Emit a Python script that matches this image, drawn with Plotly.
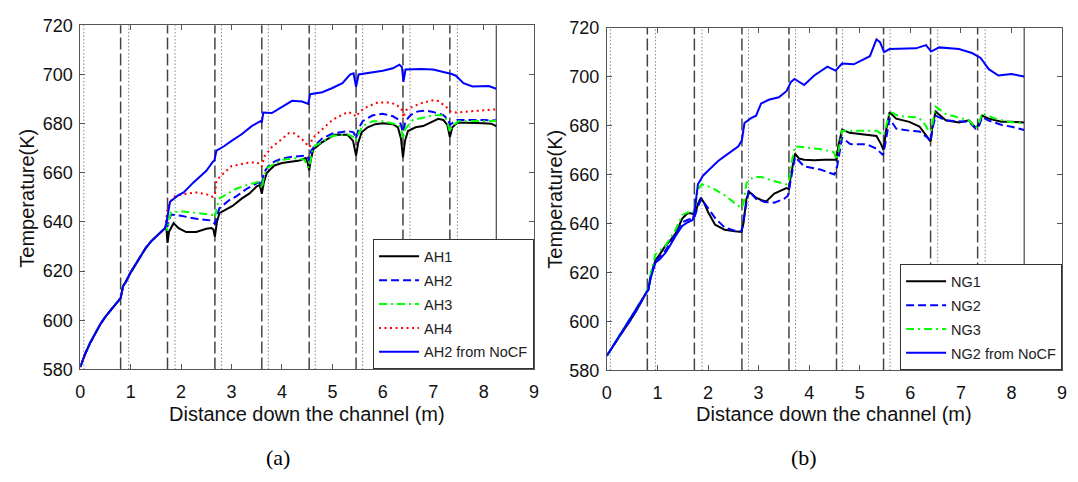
import plotly.graph_objects as go

W, H = 1078, 482

# ---------------- data: panel (a) ----------------
ah1_x = [0, 0.1, 0.2, 0.3, 0.4, 0.5, 0.6, 0.7, 0.8, 0.85, 0.9, 1.0, 1.1, 1.2, 1.3, 1.4, 1.5, 1.6, 1.68,
         1.71, 1.73, 1.76, 1.85, 1.95, 2.1, 2.3, 2.5, 2.6, 2.64, 2.67, 2.71, 2.76, 3.02, 3.2, 3.35, 3.5, 3.56,
         3.6, 3.64, 3.7, 3.85, 4.0, 4.2, 4.35, 4.47, 4.51, 4.54, 4.57, 4.62, 4.8, 5.05, 5.3, 5.41, 5.47, 5.51,
         5.58, 5.7, 5.85, 6.0, 6.2, 6.3, 6.36, 6.4, 6.44, 6.5, 6.65, 6.8, 7.0, 7.1, 7.2, 7.28, 7.33, 7.38,
         7.48, 7.7, 8.0, 8.15, 8.25]
ah1_y = [581, 586.5, 591, 595, 598.5, 601.5, 604, 606.5, 609, 614, 615.5, 619.5, 623, 626.5, 629.5, 632, 634, 636, 637.5,
         637, 631.5, 636, 639.5, 637.5, 635.9, 635.9, 637.2, 637.5, 637, 634, 640, 643.6, 646.5, 649.5, 651.5, 654.5, 655,
         651.5, 656, 660, 663, 664, 664.4, 665, 666, 664, 661, 665, 669.5, 672.5, 675.5, 675.5, 673, 667, 672,
         676.5, 678.5, 679.8, 680.2, 679.8, 678.5, 674, 666.3, 673, 677, 678.5, 679, 681.2, 682, 681.5, 679.5, 674.6, 678.5,
         680.5, 680.5, 680.2, 680, 679]

ah2_x = [0, 0.1, 0.2, 0.3, 0.4, 0.5, 0.6, 0.7, 0.8, 0.85, 0.9, 1.0, 1.1, 1.2, 1.3, 1.4, 1.5, 1.6, 1.68,
         1.71, 1.73, 1.76, 1.8, 2.0, 2.3, 2.6, 2.67, 2.72, 2.76, 2.95, 3.1, 3.3, 3.5, 3.56, 3.6, 3.64, 3.72,
         3.85, 4.0, 4.2, 4.47, 4.51, 4.54, 4.58, 4.65, 4.8, 5.0, 5.3, 5.42, 5.47, 5.52, 5.6, 5.8, 6.0, 6.2,
         6.33, 6.4, 6.45, 6.55, 6.7, 6.85, 7.0, 7.2, 7.3, 7.33, 7.4, 7.48, 8.0, 8.25]
ah2_y = [581, 586.5, 591, 595, 598.5, 601.5, 604, 606.5, 609, 614, 615.5, 619.5, 623, 626.5, 629.5, 632, 634, 636, 637.5,
         639, 638, 641, 643, 642.5, 641.3, 640.6, 639.2, 643, 645.6, 648.8, 650.5, 653.5, 655.7, 656, 655, 660, 662.5,
         664.6, 665.8, 666.5, 667, 666.5, 664.8, 669, 671, 674, 676, 677, 676.5, 674, 678, 681, 683.4, 684, 683,
         681.5, 676.5, 681, 683.5, 685, 685.3, 684.7, 683.5, 681.5, 679.5, 680.5, 681.5, 681.5, 681.3]

ah3_x = [0, 0.1, 0.2, 0.3, 0.4, 0.5, 0.6, 0.7, 0.8, 0.85, 0.9, 1.0, 1.1, 1.2, 1.3, 1.4, 1.5, 1.6, 1.68,
         1.71, 1.73, 1.76, 1.8, 2.04, 2.3, 2.6, 2.64, 2.67, 2.71, 2.76, 3.09, 3.3, 3.52, 3.57, 3.6, 3.64, 3.7,
         4.0, 4.3, 4.45, 4.5, 4.54, 4.58, 4.62, 5.0, 5.3, 5.42, 5.47, 5.52, 5.6, 5.8, 6.0, 6.3, 6.37, 6.4,
         6.45, 6.6, 7.0, 7.2, 7.28, 7.33, 7.38, 7.5, 8.25]
ah3_y = [581, 586.5, 591, 595, 598.5, 601.5, 604, 606.5, 609, 614, 615.5, 619.5, 623, 626.5, 629.5, 632, 634, 636, 637.5,
         637.5, 636.5, 641, 644, 644.3, 643.6, 643.1, 642.8, 641.8, 646, 649.6, 653.5, 655, 656.2, 655.8, 653.6, 658, 662,
         665.3, 666, 665.3, 662.7, 662, 667, 670.5, 675, 675.7, 674.5, 673, 676, 679, 681, 681, 679.6, 678, 673.6,
         678, 681.5, 683.4, 683.4, 681, 676.5, 679, 681, 681.1]

ah4_x = [0, 0.1, 0.2, 0.3, 0.4, 0.5, 0.6, 0.7, 0.8, 0.85, 0.9, 1.0, 1.1, 1.2, 1.3, 1.4, 1.5, 1.6, 1.68,
         1.71, 1.73, 1.78, 1.85, 2.05, 2.3, 2.5, 2.63, 2.67, 2.7, 2.85, 3.0, 3.3, 3.5, 3.56, 3.6, 3.65, 3.8,
         4.0, 4.14, 4.25, 4.4, 4.52, 4.55, 4.6, 4.8, 5.0, 5.3, 5.42, 5.47, 5.55, 5.7, 5.9, 6.1, 6.25, 6.37,
         6.41, 6.46, 6.6, 6.8, 7.0, 7.1, 7.25, 7.34, 7.45, 7.7, 8.0, 8.25]
ah4_y = [581, 586.5, 591, 595, 598.5, 601.5, 604, 606.5, 609, 614, 615.5, 619.5, 623, 626.5, 629.5, 632, 634, 636, 637.5,
         642, 645.6, 648, 650.2, 651.3, 652, 651.3, 650.2, 651, 656.9, 660, 662.7, 664, 664.3, 663.5, 662.5, 666.6, 670.5,
         673.7, 676.2, 676, 673.6, 671, 670.5, 674, 677.6, 681.5, 684.7, 684, 682.8, 685, 687, 688.6, 688.6, 688, 686,
         682.5, 685.5, 687, 688.6, 689.5, 689.2, 687, 685, 684.5, 685, 685.4, 685.8]

ah2nocf_x = [0, 0.1, 0.2, 0.3, 0.4, 0.5, 0.6, 0.7, 0.8, 0.85, 0.9, 1.0, 1.1, 1.2, 1.3, 1.4, 1.5, 1.6, 1.68,
             1.71, 1.73, 1.78, 1.94, 2.05, 2.24, 2.5, 2.63, 2.66, 2.7, 2.85, 3.0, 3.2, 3.4, 3.57, 3.6, 3.63, 3.8,
             4.0, 4.2, 4.4, 4.52, 4.56, 4.8, 5.0, 5.2, 5.35, 5.42, 5.47, 5.52, 6.0, 6.2, 6.33, 6.38, 6.41, 6.45,
             6.76, 7.0, 7.2, 7.35, 7.45, 7.6, 7.78, 8.1, 8.25]
ah2nocf_y = [581, 586.5, 591, 595, 598.5, 601.5, 604, 606.5, 609, 614, 615.5, 619.5, 623, 626.5, 629.5, 632, 634, 636, 637.5,
             640, 642, 648.2, 650.8, 652, 656, 660.8, 664.5, 665, 669, 670.8, 673, 675.7, 679, 681, 680.5, 684.5, 684.3,
             686.7, 689.3, 689, 688, 692, 692.8, 694.5, 696.5, 700, 700.5, 695, 700, 701.5, 702.5, 704, 703, 697, 702,
             702.2, 702, 701, 700.3, 699.5, 696.5, 695.1, 695.3, 694.2]

# ---------------- data: panel (b) ----------------
ng1_x = [0, 0.15, 0.3, 0.45, 0.6, 0.77, 0.82, 0.87, 0.96, 1.05, 1.16, 1.25, 1.36, 1.49, 1.6, 1.7, 1.74, 1.8,
         1.86, 1.92, 2.0, 2.14, 2.33, 2.53, 2.66, 2.7, 2.76, 2.82, 2.95, 3.05, 3.15, 3.31, 3.45, 3.55, 3.6, 3.64,
         3.72, 3.8, 3.9, 4.1, 4.3, 4.5, 4.54, 4.58, 4.65, 4.8, 5.1, 5.33, 5.42, 5.47, 5.52, 5.59, 5.72, 5.98,
         6.18, 6.34, 6.4, 6.44, 6.5, 6.7, 6.96, 7.16, 7.29, 7.34, 7.42, 7.55, 7.8, 8.0, 8.25]
ng1_y = [586, 591, 595.5, 600, 605, 611.5, 613, 619, 625, 627.5, 631, 633, 636, 642, 644.3, 644, 643.5, 648,
         650.5, 648.5, 644.7, 639.5, 637.4, 636.8, 636.5, 640, 650.2, 652.8, 650.5, 649.6, 649, 652.2, 653.5, 654.4, 654, 660,
         668.5, 666.5, 666, 665.8, 666, 665.9, 666, 672, 678.3, 677, 676.4, 675.7, 672.4, 670, 678, 685.4, 682.8, 681.5,
         679.6, 675, 673.5, 680, 685.7, 682.1, 681.2, 682.1, 679.1, 680, 684, 682.8, 681.5, 681.5, 681.2]

ng2_x = [0, 0.15, 0.3, 0.45, 0.6, 0.77, 0.82, 0.87, 0.96, 1.05, 1.16, 1.25, 1.36, 1.49, 1.6, 1.7, 1.74, 1.8,
         1.87, 1.94, 2.14, 2.33, 2.53, 2.66, 2.7, 2.8, 2.95, 3.12, 3.31, 3.5, 3.58, 3.62, 3.72, 3.9, 4.22, 4.5,
         4.55, 4.65, 4.81, 5.14, 5.33, 5.46, 5.5, 5.59, 5.72, 5.98, 6.18, 6.34, 6.4, 6.44, 6.5, 6.7, 6.96, 7.16,
         7.29, 7.35, 7.42, 7.55, 7.81, 8.0, 8.25]
ng2_y = [586, 591, 595.5, 600, 605, 611.5, 613, 619, 624.5, 626.5, 629, 632, 635.8, 640.5, 641.5, 642, 643, 647,
         650, 648, 642.2, 638.3, 637, 636.8, 641, 653.5, 650, 648.8, 648.5, 650, 651.3, 656, 667.2, 663.3, 662, 660,
         663, 675, 672.4, 672.3, 670.5, 667.9, 672, 682.8, 678.7, 677.9, 677.6, 675, 673.4, 679, 684, 682.1, 681.7, 681.5,
         678.7, 679.5, 683.4, 682, 680.2, 679.5, 678.2]

ng3_x = [0, 0.15, 0.3, 0.45, 0.6, 0.77, 0.82, 0.87, 0.96, 1.05, 1.16, 1.25, 1.36, 1.49, 1.6, 1.7, 1.74, 1.8,
         1.88, 2.07, 2.33, 2.53, 2.66, 2.7, 2.76, 2.9, 3.05, 3.3, 3.55, 3.6, 3.64, 3.72, 4.0, 4.2, 4.48, 4.55,
         4.65, 5.0, 5.33, 5.46, 5.5, 5.59, 5.78, 6.11, 6.24, 6.34, 6.41, 6.44, 6.5, 6.7, 6.96, 7.16, 7.29, 7.34,
         7.42, 7.68, 7.94, 8.25]
ng3_y = [586, 591, 596, 600.5, 605.5, 611.5, 613.5, 620, 627.4, 629, 631, 634, 637.5, 643.5, 644.5, 644.5, 646, 654,
         656, 654.7, 651.5, 648.3, 646.3, 648, 656.5, 659, 659, 657.3, 656, 657, 664, 671.5, 671, 670.4, 669.2, 666,
         677.9, 677.8, 677.9, 676.1, 678, 685.7, 683.8, 683.4, 682.1, 678.6, 677.6, 681, 687.7, 684.7, 683.4, 682.1, 678.9, 680,
         685, 682.8, 681.5, 680.9]

ng2nocf_x = [0, 0.15, 0.3, 0.45, 0.6, 0.77, 0.82, 0.87, 0.96, 1.05, 1.16, 1.25, 1.36, 1.49, 1.6, 1.7, 1.74, 1.8,
             1.9, 2.0, 2.2, 2.4, 2.6, 2.67, 2.72, 2.85, 2.95, 3.05, 3.2, 3.4, 3.55, 3.64, 3.71, 3.9, 4.1, 4.36,
             4.52, 4.65, 4.88, 5.2, 5.33, 5.4, 5.48, 5.59, 6.11, 6.31, 6.41, 6.57, 6.96, 7.22, 7.39, 7.55, 7.74, 8.0,
             8.25]
ng2nocf_y = [586, 591, 596, 600.5, 605.5, 611.5, 613, 618, 624, 625.5, 628.1, 631, 635, 639, 640.5, 641.5, 646, 656,
             659.5, 661.5, 665.5, 668.5, 671.5, 674, 681, 683, 684, 689, 690.5, 691.5, 694, 697.8, 699, 696.5, 700.4, 704,
             702.4, 705.3, 705, 708.3, 715.2, 714, 710, 711.2, 711.5, 712.8, 710.2, 711.9, 711.2, 709.6, 707.6, 703, 700.4, 701,
             700]

# reference (section) lines, in metres
dashed_lines = [0.80, 1.73, 2.67, 3.60, 4.54, 5.47, 6.40, 7.33]
dotted_lines = [0.07, 0.96, 1.88, 2.80, 3.73, 4.66, 5.60, 6.54, 7.48]
end_line = 8.25

x_ticks = [0, 1, 2, 3, 4, 5, 6, 7, 8, 9]
y_ticks = [580, 600, 620, 640, 660, 680, 700, 720]

# ---------------- figure ----------------
fig = go.Figure()

styles = {
    "solid_k": dict(color="#000000", width=2),
    "dash_b": dict(color="#0000FF", width=2, dash="8px,4px"),
    "dashdot_g": dict(color="#00FF00", width=2, dash="8px,4px,2px,4px"),
    "dot_r": dict(color="#FF0000", width=2, dash="2px,3.5px"),
    "solid_b": dict(color="#0000FF", width=2),
}

left = [
    ("AH1", ah1_x, ah1_y, "solid_k"),
    ("AH2", ah2_x, ah2_y, "dash_b"),
    ("AH3", ah3_x, ah3_y, "dashdot_g"),
    ("AH4", ah4_x, ah4_y, "dot_r"),
    ("AH2 from NoCF", ah2nocf_x, ah2nocf_y, "solid_b"),
]
right = [
    ("NG1", ng1_x, ng1_y, "solid_k"),
    ("NG2", ng2_x, ng2_y, "dash_b"),
    ("NG3", ng3_x, ng3_y, "dashdot_g"),
    ("NG2 from NoCF", ng2nocf_x, ng2nocf_y, "solid_b"),
]

for i, (name, xs, ys, st) in enumerate(left):
    fig.add_trace(go.Scatter(x=xs, y=ys, mode="lines", name=name, line=styles[st],
                             xaxis="x", yaxis="y", legend="legend", legendgroup="a%d" % i))
for i, (name, xs, ys, st) in enumerate(right):
    fig.add_trace(go.Scatter(x=xs, y=ys, mode="lines", name=name, line=styles[st],
                             xaxis="x2", yaxis="y2", legend="legend2", legendgroup="b%d" % i))

shapes = []
for xr, yr in (("x", "y domain"), ("x2", "y2 domain")):
    for v in dashed_lines:
        shapes.append(dict(type="line", xref=xr, yref=yr, x0=v, x1=v, y0=0, y1=1, layer="below",
                           line=dict(color="#444444", width=1.5, dash="12px,4px")))
    for v in dotted_lines:
        shapes.append(dict(type="line", xref=xr, yref=yr, x0=v, x1=v, y0=0, y1=1, layer="below",
                           line=dict(color="#888888", width=1, dash="1.5px,2px")))
    shapes.append(dict(type="line", xref=xr, yref=yr, x0=end_line, x1=end_line, y0=0, y1=1, layer="below",
                       line=dict(color="#222222", width=1)))

tickfont = dict(family="Liberation Sans, Arial, sans-serif", size=18, color="#111111")
axis_common = dict(showgrid=False, zeroline=False, showline=True, linecolor="#555555", linewidth=1,
                   mirror="ticks", ticks="inside", ticklen=5, tickcolor="#555555", tickfont=tickfont)

def px_x(p):
    return p / W

def px_y(p):
    return 1 - p / H

legend_font = dict(family="Liberation Sans, Arial, sans-serif", size=14.5, color="#222222")

fig.update_layout(
    width=W, height=H, margin=dict(l=0, r=0, t=0, b=0),
    paper_bgcolor="white", plot_bgcolor="white",
    xaxis=dict(domain=[px_x(76), px_x(534)], range=[0, 9], tickvals=x_ticks, anchor="y",
               ticklabelstandoff=6, **axis_common),
    yaxis=dict(domain=[px_y(375), px_y(16)], range=[580, 720], tickvals=y_ticks, anchor="x",
               ticklabelstandoff=3, **axis_common),
    xaxis2=dict(domain=[px_x(607.5), px_x(1067)], range=[0, 9], tickvals=x_ticks, anchor="y2",
                ticklabelstandoff=6, **axis_common),
    yaxis2=dict(domain=[px_y(376), px_y(18.3)], range=[580, 720], tickvals=y_ticks, anchor="x2",
                ticklabelstandoff=3, **axis_common),
    shapes=shapes,
    legend=dict(x=px_x(534), xanchor="right", y=px_y(375), yanchor="bottom", bgcolor="white",
                bordercolor="#333333", borderwidth=1, itemwidth=40, tracegroupgap=2, traceorder="grouped",
                font=legend_font),
    legend2=dict(x=px_x(1067), xanchor="right", y=px_y(376), yanchor="bottom", bgcolor="white",
                 bordercolor="#333333", borderwidth=1, itemwidth=40, tracegroupgap=2, traceorder="grouped",
                 font=legend_font),
    showlegend=True,
)

title_font = dict(family="Liberation Sans, Arial, sans-serif", size=20, color="#111111")
cap_font = dict(family="Liberation Serif, Times New Roman, serif", size=22, color="#000000")
ann = [
    dict(text="Distance down the channel (m)", x=px_x(305), y=px_y(421), font=title_font),
    dict(text="Distance down the channel (m)", x=px_x(837), y=px_y(421), font=title_font),
    dict(text="Temperature(K)", x=px_x(22), y=px_y(196), textangle=-90, font=title_font),
    dict(text="Temperature(K)", x=px_x(555), y=px_y(197), textangle=-90, font=title_font),
    dict(text="(a)", x=px_x(276), y=px_y(467), font=cap_font),
    dict(text="(b)", x=px_x(806), y=px_y(467), font=cap_font),
]
for a in ann:
    a.update(xref="paper", yref="paper", xanchor="center", yanchor="middle", showarrow=False)
fig.update_layout(annotations=ann)

fig.write_html("out.html")
